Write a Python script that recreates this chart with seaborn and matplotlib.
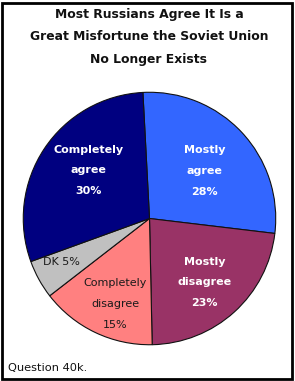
import matplotlib
matplotlib.use("Agg")
import matplotlib.pyplot as plt
import seaborn as sns
import numpy as np
from matplotlib.patches import Rectangle

sns.set_theme(style="white")
plt.rcParams['font.family'] = ['DejaVu Sans']

categories = ["Mostly\nagree", "Mostly\ndisagree", "Completely\ndisagree", "DK", "Completely\nagree"]
values = [28, 23, 15, 5, 30]
pct_labels = ["28%", "23%", "15%", "5%", "30%"]
colors = ["#3366FF", "#993366", "#FF8080", "#C0C0C0", "#000080"]
text_colors = ["white", "white", "#1a1a1a", "#1a1a1a", "white"]
weights = ["bold", "bold", "normal", "normal", "bold"]
label_dist = [0.576, 0.667, 0.73, 0.78, 0.614]
label_ang_off = [-2.2, -1.5, 3.8, -2.4, -4.8]
title = "Most Russians Agree It Is a\nGreat Misfortune the Soviet Union\nNo Longer Exists"
note = "Question 40k."

W, H = 295, 381
fig = plt.figure(figsize=(W / 100, H / 100), dpi=100)
fig.patch.set_facecolor("white")

cx, cy, r = 149.5, 218.5, 127.5
ax = fig.add_axes([(cx - r) / W, (H - cy - r) / H, 2 * r / W, 2 * r / H])
wedges, _ = ax.pie(values, colors=colors, startangle=93, counterclock=False,
                   wedgeprops=dict(edgecolor="#111111", linewidth=0.8), radius=1)
ax.set_xlim(-1.01, 1.01)
ax.set_ylim(-1.01, 1.01)
ax.set_aspect("equal")
ax.axis("off")

for w, cat, p, tc, fw, d, off in zip(wedges, categories, pct_labels, text_colors,
                                     weights, label_dist, label_ang_off):
    ang = np.deg2rad((w.theta1 + w.theta2) / 2 + off)
    txt = f"{cat} {p}" if cat == "DK" else f"{cat}\n{p}"
    ax.text(d * np.cos(ang), d * np.sin(ang), txt, ha="center", va="center",
            color=tc, fontsize=8, fontweight=fw, linespacing=2.33)

fig.text(149 / W, 1 - 37 / H, title, ha="center", va="center", fontsize=8.9,
         fontweight="bold", color="#111111", linespacing=1.94)
fig.text(8 / W, 1 - 368 / H, note, ha="left", va="center", fontsize=8.2, color="#111111")

fig.add_artist(Rectangle((1.5 / W, 2.5 / H), 290 / W, 376 / H, transform=fig.transFigure,
                         fill=False, edgecolor="black", linewidth=2))

fig.savefig("out.png", dpi=100)
